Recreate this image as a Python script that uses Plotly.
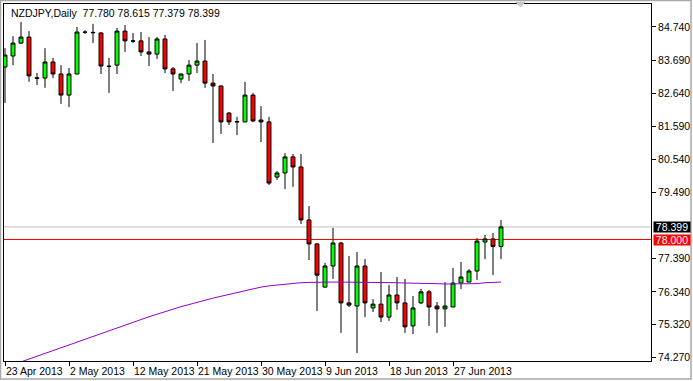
import plotly.graph_objects as go

# ---- data ----
dates = ["2013-04-23","2013-04-24","2013-04-25","2013-04-26","2013-04-28","2013-04-29","2013-04-30",
         "2013-05-01","2013-05-02","2013-05-03","2013-05-05","2013-05-06","2013-05-07","2013-05-08",
         "2013-05-09","2013-05-10","2013-05-12","2013-05-13","2013-05-14","2013-05-15","2013-05-16",
         "2013-05-17","2013-05-19","2013-05-20","2013-05-21","2013-05-22","2013-05-23","2013-05-24",
         "2013-05-26","2013-05-27","2013-05-28","2013-05-29","2013-05-30","2013-05-31","2013-06-02",
         "2013-06-03","2013-06-04","2013-06-05","2013-06-06","2013-06-07","2013-06-09","2013-06-10",
         "2013-06-11","2013-06-12","2013-06-13","2013-06-14","2013-06-16","2013-06-17","2013-06-18",
         "2013-06-19","2013-06-20","2013-06-21","2013-06-23","2013-06-24","2013-06-25","2013-06-26",
         "2013-06-27","2013-06-28","2013-06-30","2013-07-01","2013-07-02","2013-07-03","2013-07-04"]

open_ = [83.47,83.82,84.23,84.42,83.13,83.12,83.63,83.25,82.58,83.25,84.58,84.57,84.55,83.50,
         83.53,84.61,84.30,84.30,83.95,83.88,84.36,83.41,83.09,83.25,83.53,83.66,82.96,82.87,
         82.01,81.74,81.73,82.58,81.79,81.73,79.98,80.11,80.62,80.30,78.62,77.86,76.49,77.16,
         77.89,75.99,75.89,77.16,75.83,75.95,75.54,76.24,75.99,75.26,75.99,76.34,75.89,75.80,
         75.86,76.62,76.65,77.00,77.92,78.02,77.780]
high = [84.07,84.45,84.90,84.61,83.28,84.07,83.76,83.53,83.44,84.74,84.64,84.84,84.58,83.76,
        84.71,84.80,84.55,84.58,84.42,84.42,84.49,83.47,83.26,83.69,84.23,84.33,83.25,82.88,
        82.04,81.89,83.00,82.65,82.23,81.89,80.17,80.74,80.71,80.71,79.06,77.88,77.26,78.37,
        77.92,77.48,77.60,77.38,76.11,76.97,76.56,76.81,76.75,76.21,76.43,76.40,76.02,76.65,
        77.10,77.29,77.06,78.05,78.14,78.21,78.615]
low = [82.33,83.53,84.20,83.00,82.90,82.81,83.12,82.30,82.20,83.24,84.52,84.23,83.25,82.65,
       83.25,83.95,84.23,83.82,83.50,83.73,83.28,82.71,82.96,83.03,83.28,82.81,81.06,81.35,
       81.63,81.31,81.72,81.72,81.09,79.73,79.89,79.60,79.67,78.49,77.35,75.73,76.48,76.75,
       75.04,75.86,74.40,75.54,75.70,75.38,75.42,75.77,75.04,75.00,75.95,75.26,75.04,75.23,
       75.86,76.43,76.65,76.72,77.38,76.87,77.379]
close = [83.85,84.23,84.42,83.19,83.11,83.63,83.25,82.58,83.25,84.58,84.57,84.56,83.50,83.49,
         84.61,84.30,84.29,83.95,83.88,84.36,83.41,83.25,83.25,83.53,83.66,82.96,82.87,81.73,
         81.73,81.73,82.58,81.76,81.73,79.79,80.11,80.62,80.30,78.62,77.86,76.87,77.16,77.89,
         75.99,75.92,77.16,75.99,75.95,75.54,76.24,75.99,75.23,75.83,76.34,75.86,75.80,75.89,
         76.62,76.81,77.00,77.95,78.02,77.78,78.399]

ma = [73.94,74.03,74.12,74.21,74.30,74.39,74.48,74.57,74.66,74.75,74.84,74.94,75.03,75.12,
      75.20,75.29,75.38,75.46,75.55,75.63,75.72,75.79,75.87,75.94,76.02,76.08,76.14,76.20,
      76.26,76.32,76.38,76.44,76.49,76.53,76.56,76.59,76.62,76.63,76.64,76.65,76.65,76.65,
      76.65,76.65,76.65,76.65,76.65,76.65,76.64,76.63,76.62,76.62,76.62,76.61,76.60,76.59,
      76.59,76.59,76.59,76.60,76.63,76.65,76.65]

xtick_dates = ["2013-04-23","2013-05-02","2013-05-12","2013-05-21","2013-05-30","2013-06-09","2013-06-18","2013-06-27"]
xtick_text = ["23 Apr 2013","2 May 2013","12 May 2013","21 May 2013","30 May 2013","9 Jun 2013","18 Jun 2013","27 Jun 2013"]
ytick_vals = [84.740,83.690,82.640,81.590,80.540,79.490,77.390,76.340,75.320,74.270]
ytick_text = ["84.740","83.690","82.640","81.590","80.540","79.490","77.390","76.340","75.320","74.270"]
bid_level = 78.399
alert_level = 78.000
title_text = "NZDJPY,Daily  77.780 78.615 77.379 78.399"

FONT = "Liberation Sans"
FS = 10.5

fig = go.Figure()
fig.add_trace(go.Scatter(x=dates, y=ma, mode="lines", line=dict(color="#9400D3", width=1),
                         hoverinfo="skip", showlegend=False))
fig.add_trace(go.Candlestick(
    x=dates, open=open_, high=high, low=low, close=close,
    increasing=dict(fillcolor="#00FF00", line=dict(color="black", width=1)),
    decreasing=dict(fillcolor="#FF0000", line=dict(color="black", width=1)),
    whiskerwidth=0, showlegend=False))

W, H = 693, 381
L, R, T, B = 4, 42, 4, 20
pw, ph = W - L - R, H - T - B
def px(x): return (x - L) / pw
def py(y): return 1 - (y - T) / ph

fig.update_layout(
    width=W, height=H,
    margin=dict(l=L, r=R, t=T, b=B, pad=0, autoexpand=False),
    paper_bgcolor="white", plot_bgcolor="white",
    font=dict(family=FONT, size=FS, color="black"),
    showlegend=False,
    xaxis=dict(type="category", categoryorder="array", categoryarray=dates,
               range=[-0.125, 80.75], rangeslider=dict(visible=False),
               tickmode="array", tickvals=xtick_dates, ticktext=xtick_text,
               tickangle=0, automargin=False,
               ticks="outside", ticklen=4, tickcolor="black", tickwidth=1,
               ticklabelposition="outside right",
               showgrid=False, zeroline=False,
               showline=True, linecolor="black", linewidth=1, mirror=True,
               tickfont=dict(family=FONT, size=FS, color="black")),
    yaxis=dict(side="right", range=[74.147, 85.469], automargin=False,
               tickmode="array", tickvals=ytick_vals, ticktext=ytick_text,
               ticks="outside", ticklen=4, tickcolor="black", tickwidth=1,
               showgrid=False, zeroline=False,
               showline=True, linecolor="black", linewidth=1, mirror=True,
               tickfont=dict(family=FONT, size=FS, color="black")),
)

shapes = [
    dict(type="line", xref="paper", yref="y", x0=0, x1=1, y0=bid_level, y1=bid_level,
         line=dict(color="#C0C0C0", width=1), layer="between"),
    dict(type="line", xref="paper", yref="y", x0=0, x1=1, y0=alert_level, y1=alert_level,
         line=dict(color="#FF0000", width=1), layer="between"),
    # window frame
    dict(type="rect", xref="paper", yref="paper", x0=px(0.5), x1=px(691), y0=py(0.5), y1=py(379),
         line=dict(color="#A8A8A8", width=1.5), fillcolor="rgba(0,0,0,0)", layer="above"),
    # chart shift marker
    dict(type="path", xref="paper", yref="paper",
         path=f"M {px(516)},{py(2)} L {px(525)},{py(2)} L {px(520.5)},{py(7)} Z",
         line=dict(color="#C8C8C8", width=1), fillcolor="#C8C8C8", layer="above"),
]
fig.update_layout(shapes=shapes)

annotations = [
    dict(text=title_text, xref="paper", yref="paper", x=px(9), y=py(13),
         xanchor="left", yanchor="middle", showarrow=False,
         font=dict(family=FONT, size=FS, color="black")),
    dict(text=f"{bid_level:.3f}", xref="paper", yref="y", x=px(653), y=bid_level,
         xanchor="left", yanchor="middle", showarrow=False, bgcolor="black",
         width=36, height=10, borderpad=0, font=dict(family=FONT, size=FS, color="white")),
    dict(text=f"{alert_level:.3f}", xref="paper", yref="y", x=px(653), y=alert_level,
         xanchor="left", yanchor="middle", showarrow=False, bgcolor="#FF0000",
         width=36, height=10, borderpad=0, font=dict(family=FONT, size=FS, color="white")),
]
fig.update_layout(annotations=annotations)

fig.write_html("out.html")
